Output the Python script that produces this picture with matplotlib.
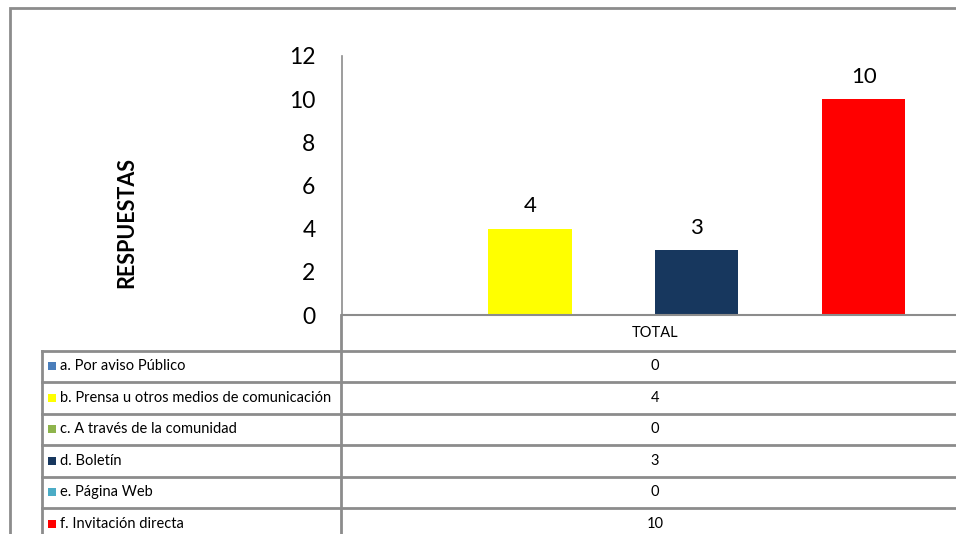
import matplotlib
matplotlib.use("Agg")
import matplotlib.pyplot as plt
from matplotlib.lines import Line2D
from matplotlib.patches import Rectangle

plt.rcParams['font.family'] = ['Lato', 'DejaVu Sans']

# ---- data ----
category = "TOTAL"
series_labels = ["a. Por aviso Público",
                 "b. Prensa u otros medios de comunicación",
                 "c. A través de la comunidad",
                 "d. Boletín",
                 "e. Página Web",
                 "f. Invitación directa"]
series_values = [0, 4, 0, 3, 0, 10]
series_colors = ["#4A7EBB", "#FFFF00", "#8EB44C", "#17375E", "#4BACC6", "#FF0000"]
y_ticks = [0, 2, 4, 6, 8, 10, 12]
y_title = "RESPUESTAS"

W, H = 956, 534
fig = plt.figure(figsize=(W / 100, H / 100), dpi=100)

def fx(px):
    return px / W

def fy(py):
    return 1 - py / H

GRAY = "#8C8C8C"

# outer chart border
fig.add_artist(Rectangle((fx(9.5), fy(H + 20)), fx(W + 40), (H + 20 - 8) / H,
                         transform=fig.transFigure, fill=False,
                         edgecolor=GRAY, linewidth=2))

# plot area
ax_left, ax_right = 342, 968
ax_top, ax_bottom = 56, 315
ax = fig.add_axes([fx(ax_left), fy(ax_bottom), fx(ax_right - ax_left),
                   (ax_bottom - ax_top) / H])
ax.set_facecolor("none")

n = len(series_values)
w = 1.0 / (n + 1.5)
for i, (v, c) in enumerate(zip(series_values, series_colors)):
    x = (i - (n - 1) / 2) * w
    ax.bar(x, v, width=w, color=c, linewidth=0)
    if v != 0:
        ax.annotate(str(v), (x, v), xytext=(0, 9), textcoords="offset points",
                    ha="center", va="bottom", fontsize=16, color="black")

ax.set_xlim(-0.5, 0.5)
ax.set_ylim(0, 12)
ax.set_yticks(y_ticks)
ax.set_yticklabels([str(t) for t in y_ticks], fontsize=16.5)
ax.tick_params(axis="y", length=0, pad=19)
ax.set_xticks([])
for s in ["top", "right"]:
    ax.spines[s].set_visible(False)
ax.spines["left"].set_color(GRAY)
ax.spines["bottom"].set_color(GRAY)
ax.spines["left"].set_linewidth(1.2)
ax.spines["bottom"].set_linewidth(1.5)

fig.text(fx(127), fy(222), y_title, rotation=90, ha="center", va="center",
         fontsize=15.5, fontweight="bold")

# data table
col_x = 341
tbl_left = 42
header_bottom = 350.5
row_h = 31.5
val_cx = 655
tfs = 10.5

fig.add_artist(Line2D([fx(col_x), fx(col_x)], [fy(ax_bottom), fy(H + 5)],
                      transform=fig.transFigure, color=GRAY, linewidth=2))
fig.add_artist(Line2D([fx(tbl_left), fx(tbl_left)], [fy(header_bottom), fy(H + 5)],
                      transform=fig.transFigure, color=GRAY, linewidth=2))
fig.text(fx(val_cx), fy((ax_bottom + header_bottom) / 2), category,
         ha="center", va="center", fontsize=tfs)

for i, (lab, v, c) in enumerate(zip(series_labels, series_values, series_colors)):
    top = header_bottom + i * row_h
    fig.add_artist(Line2D([fx(tbl_left), fx(W + 5)], [fy(top), fy(top)],
                          transform=fig.transFigure, color=GRAY, linewidth=2))
    cy = top + row_h / 2
    fig.add_artist(Rectangle((fx(48), fy(cy + 4)), fx(8), 8 / H,
                             transform=fig.transFigure, color=c, linewidth=0))
    fig.text(fx(60), fy(cy), lab, ha="left", va="center", fontsize=tfs)
    fig.text(fx(val_cx), fy(cy), str(v), ha="center", va="center", fontsize=tfs)

fig.savefig("out.png", dpi=100)
